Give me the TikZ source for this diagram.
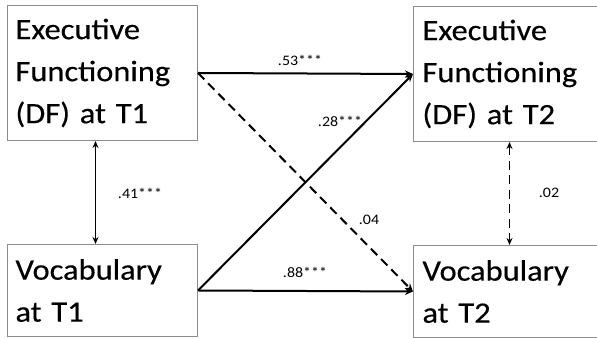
\documentclass[tikz,border=0pt]{standalone}
\usepackage{fontspec}
\setmainfont[FakeStretch=1.1,FakeBold=0.4]{Carlito}
\newfontfamily\labfont[FakeStretch=1.1]{Carlito}
\usetikzlibrary{arrows.meta,calc}
\begin{document}
\begin{tikzpicture}[x=1pt,y=1pt,
  box/.style={draw=black!45, line width=1pt, anchor=north west, inner sep=0pt,
    font=\fontsize{29.5}{42}\selectfont, align=left, text width=#1},
  link/.style={line width=2pt, -{Stealth[length=8pt,width=7pt]}},
  both/.style={line width=1.8pt, {Stealth[length=7pt,width=6pt]}-{Stealth[length=7pt,width=6pt]}},
  dsh/.style={dash pattern=on 9pt off 5.5pt},
  lab/.style={font=\labfont\fontsize{14.5}{16}\selectfont, inner sep=1pt}]
\useasboundingbox (0,0) rectangle (597,339);
\node[box=190pt, minimum width=190pt, minimum height=135pt] (tl) at (7,334)
  {\hspace*{8pt}Executive\\\hspace*{8pt}Functioning\\\hspace*{8pt}(DF) at T1};
\node[box=200pt, minimum width=200pt, minimum height=135pt] (tr) at (413,333)
  {\hspace*{9pt}Executive\\\hspace*{9pt}Functioning\\\hspace*{9pt}(DF) at T2};
\node[box=190pt, minimum width=190pt, minimum height=92pt] (bl) at (7,95)
  {\hspace*{8pt}Vocabulary\\\hspace*{8pt}at T1};
\node[box=200pt, minimum width=200pt, minimum height=92pt] (br) at (413,94)
  {\hspace*{9pt}Vocabulary\\\hspace*{9pt}at T2};
\draw[link] (tl.east) -- (tr.west);
\draw[link] (bl.east) -- (br.west);
\draw[link] (bl.east) -- (tr.west);
\draw[link, dsh] (tl.east) -- (br.west);
\draw[both] ([xshift=-7pt]tl.south) -- ([xshift=-7pt]bl.north);
\draw[both, dsh] ([xshift=-4pt]tr.south) -- ([xshift=-4pt]br.north);
\node[lab] (l53) at (300,279) {.53***};
\node[lab] (l28) at (340,218) {.28***};
\node[lab] (l41) at (140,146) {.41***};
\node[lab] (l04) at (369,119) {.04};
\node[lab] (l02) at (549,146) {.02};
\node[lab] (l88) at (305,67) {.88***};
\end{tikzpicture}
\end{document}
